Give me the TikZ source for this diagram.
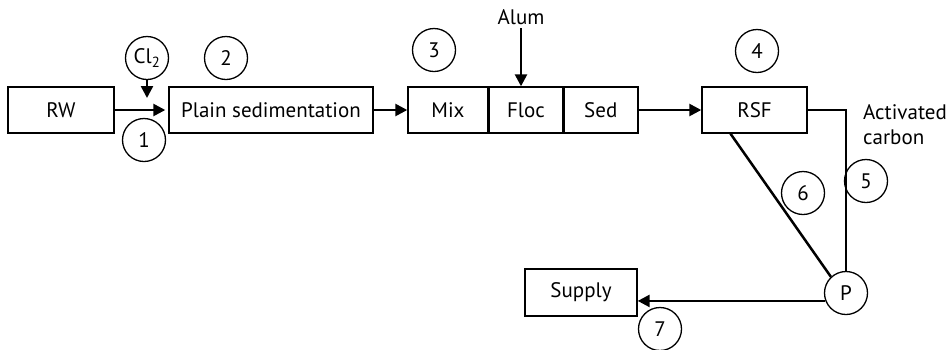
\documentclass[tikz,border=0pt]{standalone}
\usepackage{fontspec}
\setmainfont{PT Sans}
\usepackage{tikz}
\usetikzlibrary{positioning, arrows.meta, calc}

\tikzset{
	box/.style={draw, line width=1.4pt, minimum height=46, inner sep=0pt},
	num/.style={draw, circle, line width=1.3pt, minimum size=43, inner sep=0pt},
	flow/.style={line width=2.5pt, -{Triangle[length=12pt, width=12pt]}},
	pipe/.style={line width=2.5pt}
}

\begin{document}
\begin{tikzpicture}[x=1pt, y=-1pt, font=\fontsize{21}{25}\selectfont]
					\useasboundingbox (0,0) rectangle (950,349);
					
					\node[box, minimum width=106] at (61,110) (rw) {RW};
					\node[box, minimum width=204] at (271,110) (plain) {Plain sedimentation};
					\node[box, minimum width=80] at (448,110) (mix) {Mix};
					\node[box, minimum width=73, right=0pt of mix] (floc) {Floc};
					\node[box, minimum width=74, right=0pt of floc] (sed) {Sed};
					\node[box, minimum width=105] at (754.5,110) (rsf) {RSF};
					\node[box, minimum width=112, minimum height=47] at (581,292.5) (supply) {Supply};
					\node[num] at (846,293) (pump) {P};
					
					\node[num] at (147,58) (cl) {Cl\textsubscript{2}};
					\node[num] at (144,140) (n1) {1};
					\node[num] at (226,58) (n2) {2};
					\node[num] at (434,50) (n3) {3};
					\node[num] at (757,51) (n4) {4};
					\node[num] at (866,181) (n5) {5};
					\node[num] at (803,193) (n6) {6};
					\node[num] at (660,329) (n7) {7};
					
					\node[] at (521,17) (alum) {Alum};
					\node[anchor=west, align=left, inner sep=0pt] at (863,125) (carbon) {Activated\\carbon};
					\coordinate (clend) at (147,98);
					
					% main line
					\draw[flow, shorten >=3pt] (rw) -- (plain);
					\draw[flow] (plain) -- (mix);
					\draw[flow] (sed) -- (rsf);
					\draw[flow] (cl) -- (clend);
					\draw[flow] (alum) -- (alum |- floc.north);
					
					% filter to pump and supply
					\draw[pipe] (rsf.east) -| (pump);
					\draw[pipe] ($(rsf.south)+(-24,0)$) -- (pump.133);
					\draw[flow] (pump.201) -- (pump.201 -| supply.east);
				\end{tikzpicture}
\end{document}
